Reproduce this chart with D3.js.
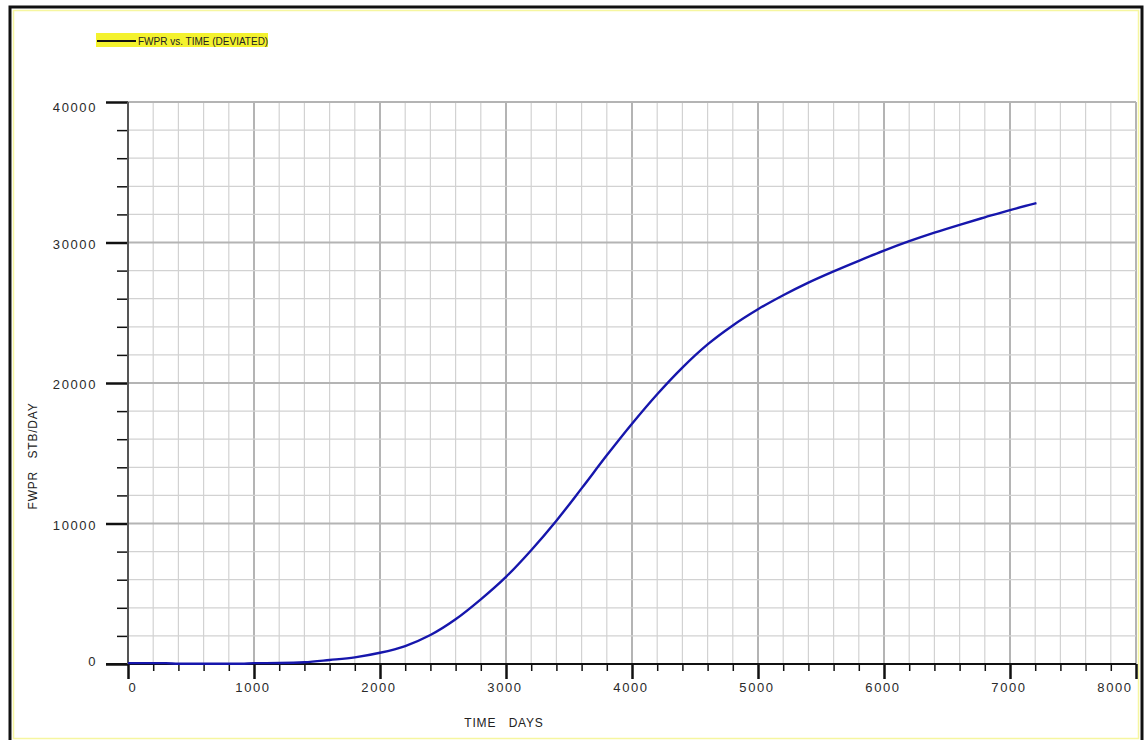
<!DOCTYPE html>
<html>
<head>
<meta charset="utf-8">
<script src="https://cdn.jsdelivr.net/npm/d3@7"></script>
<style>
  html, body { margin: 0; padding: 0; background: #fff; }
  svg { display: block; }
  text { font-family: "Liberation Sans", Arial, sans-serif; white-space: pre; }
</style>
</head>
<body>
<script>
// Water production rate of the deviated well, sampled along simulation time
const timeDays = [0, 300, 400, 900, 1000, 1200, 1400, 1600, 1800, 2000, 2200, 2400, 2600, 2800,
  3000, 3200, 3400, 3600, 3800, 4000, 4200, 4400, 4600, 4800, 5000, 5200, 5400, 5600, 5800,
  6000, 6200, 6400, 6600, 6800, 7000, 7210];
const fwpr = [60, 60, 20, 20, 60, 70, 120, 285, 475, 800, 1280, 2060, 3180, 4600,
  6200, 8100, 10200, 12500, 14850, 17100, 19200, 21100, 22750, 24100, 25250, 26250, 27150, 27950, 28700,
  29420, 30090, 30700, 31260, 31790, 32310, 32800];

const xTicks = [0, 1000, 2000, 3000, 4000, 5000, 6000, 7000, 8000];
const yTicks = [0, 10000, 20000, 30000, 40000];
const legendLabel = "FWPR vs. TIME (DEVIATED)";
const xTitle = "TIME   DAYS";
const yTitle = "FWPR   STB/DAY";

const W = 1146, H = 740;
const svg = d3.select("body").append("svg").attr("width", W).attr("height", H);

// outer frame: black rule with a pale yellow inner rule
svg.append("rect").attr("x", 10).attr("y", 7).attr("width", 1132).attr("height", 740)
  .attr("fill", "#fff").attr("stroke", "#111").attr("stroke-width", 3);
svg.append("rect").attr("x", 13.5).attr("y", 10.5).attr("width", 1125).attr("height", 728)
  .attr("fill", "none").attr("stroke", "#f6f6a0").attr("stroke-width", 1.5);

const x = d3.scaleLinear().domain([0, 8000]).range([128, 1136]);
const y = d3.scaleLinear().domain([0, 40000]).range([664, 102]);

// grid
const g = svg.append("g");
const xMinor = d3.range(0, 8001, 200);
const yMinor = d3.range(0, 40001, 2000);
g.selectAll("line.vg").data(xMinor).join("line")
  .attr("x1", d => x(d)).attr("x2", d => x(d)).attr("y1", y(0)).attr("y2", y(40000))
  .attr("stroke", d => d % 1000 === 0 ? "#b4b4b4" : "#d2d2d2")
  .attr("stroke-width", d => d % 1000 === 0 ? 2 : 1.2);
g.selectAll("line.hg").data(yMinor).join("line")
  .attr("x1", x(0)).attr("x2", x(8000)).attr("y1", d => y(d)).attr("y2", d => y(d))
  .attr("stroke", d => d % 10000 === 0 ? "#b4b4b4" : "#d2d2d2")
  .attr("stroke-width", d => d % 10000 === 0 ? 2 : 1.2);

// axes
const xAxis = d3.axisBottom(x).tickValues(xMinor).tickFormat("")
  .tickSizeInner(7).tickSizeOuter(0);
const xAx = svg.append("g").attr("transform", `translate(0,${y(0)})`).call(xAxis);
xAx.select(".domain").remove();
xAx.selectAll(".tick line")
  .attr("y2", d => d % 1000 === 0 ? 15 : 7)
  .attr("stroke", "#111").attr("stroke-width", d => d % 1000 === 0 ? 2.5 : 1.5);

const yAxis = d3.axisLeft(y).tickValues(yMinor).tickFormat("")
  .tickSizeInner(11).tickSizeOuter(0);
const yAx = svg.append("g").attr("transform", `translate(${x(0)},0)`).call(yAxis);
yAx.select(".domain").remove();
yAx.selectAll(".tick line")
  .attr("x2", d => d % 10000 === 0 ? -22 : -11)
  .attr("stroke", "#111").attr("stroke-width", d => d % 10000 === 0 ? 2.5 : 1.5);

// axis lines
svg.append("line").attr("x1", x(0) - 22).attr("x2", x(8000)).attr("y1", y(0)).attr("y2", y(0))
  .attr("stroke", "#111").attr("stroke-width", 2);
svg.append("line").attr("x1", x(0)).attr("x2", x(0)).attr("y1", y(0)).attr("y2", y(40000))
  .attr("stroke", "#555").attr("stroke-width", 2);

// tick labels
svg.selectAll("text.xl").data(xTicks).join("text")
  .attr("x", d => x(d) + (d === 0 ? 5 : d === 8000 ? -21 : -1))
  .attr("y", 692)
  .attr("text-anchor", "middle")
  .attr("font-size", 13).attr("letter-spacing", 1.6).attr("fill", "#2a2a2a")
  .text(d => d);
svg.selectAll("text.yl").data(yTicks).join("text")
  .attr("x", 97)
  .attr("y", d => y(d) + (d === 40000 ? 10 : d === 0 ? 2 : 6))
  .attr("text-anchor", "end")
  .attr("font-size", 13).attr("letter-spacing", 1.6).attr("fill", "#2a2a2a")
  .text(d => d);

// axis titles
svg.append("text").attr("x", 504).attr("y", 727).attr("text-anchor", "middle")
  .attr("font-size", 12).attr("letter-spacing", 0.8).attr("fill", "#222").text(xTitle);
svg.append("text").attr("transform", "translate(37,456) rotate(-90)").attr("text-anchor", "middle")
  .attr("font-size", 12).attr("letter-spacing", 0.8).attr("fill", "#222").text(yTitle);

// curve
const pts = timeDays.map((d, i) => [d, fwpr[i]]);
svg.append("path").datum(pts)
  .attr("d", d3.line().x(d => x(d[0])).y(d => y(d[1])).curve(d3.curveMonotoneX))
  .attr("fill", "none").attr("stroke", "#1616ac").attr("stroke-width", 2.4);

// legend
const lg = svg.append("g");
lg.append("rect").attr("x", 96).attr("y", 33).attr("width", 172).attr("height", 14)
  .attr("fill", "#f4f22e");
lg.append("line").attr("x1", 97).attr("x2", 136).attr("y1", 41).attr("y2", 41)
  .attr("stroke", "#111").attr("stroke-width", 2);
lg.append("text").attr("x", 138).attr("y", 44.5).attr("font-size", 10).attr("fill", "#222")
  .text(legendLabel);
</script>
</body>
</html>
